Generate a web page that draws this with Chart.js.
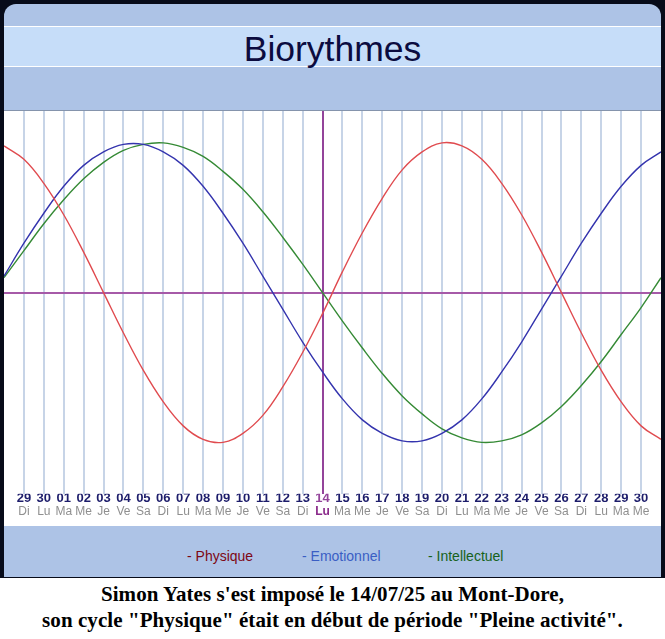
<!DOCTYPE html>
<html>
<head>
<meta charset="utf-8">
<script src="https://cdn.jsdelivr.net/npm/chart.js@4.4.0/dist/chart.umd.min.js"></script>
<style>
  html, body { margin: 0; padding: 0; }
  body { width: 665px; height: 639px; background: #ffffff; position: relative; overflow: hidden; font-family: 'Liberation Sans', Arial, sans-serif; }
  #frame { position: absolute; left: 0; top: 0; width: 665px; height: 578px; background: #070b19; }
  #panel { position: absolute; left: 4px; top: 4px; width: 657px; height: 573px; background: #adc3e6; border-radius: 12px 12px 0 0; overflow: hidden; }
  #titleBand { position: absolute; left: 0; top: 22px; width: 657px; height: 39px; background: #c6ddf9; border-top: 1px solid #ffffff; border-bottom: 1px solid #ffffff; }
  #titleBand span { position: absolute; left: 0; width: 657px; top: 2px; text-align: center; font-size: 35.5px; color: #0b0b3f; }
  #plot { position: absolute; left: 0; top: 106px; width: 657px; height: 415px; background: #ffffff; border-top: 1px solid #8594ac; }
  #legend span { position: absolute; top: 544px; font-size: 14px; }
  #caption { position: absolute; left: 0; top: 581px; width: 665px; text-align: center; font-family: 'Liberation Serif', 'Times New Roman', serif; font-weight: bold; font-size: 21px; letter-spacing: 0.07px; line-height: 26px; color: #000000; }
</style>
</head>
<body>
<div id="frame">
  <div id="panel">
    <div id="titleBand"><span>Biorythmes</span></div>
    <div id="plot"><canvas id="bio" width="657" height="415"></canvas></div>
    <div id="legend">
      <span style="left:183px;color:#7e0714">- Physique</span>
      <span style="left:298px;color:#3a5ec4">- Emotionnel</span>
      <span style="left:424px;color:#16621a">- Intellectuel</span>
    </div>
  </div>
</div>
<div id="caption">Simon Yates s'est imposé le 14/07/25 au Mont-Dore,<br>son cycle "Physique" était en début de période "Pleine activité".</div>

<script>
// days shown: 29/06 -> 30/07, the race day (14/07, Lu) is index 15
const dayNums = ['29', '30', '01', '02', '03', '04', '05', '06', '07', '08', '09', '10', '11', '12', '13', '14',
                 '15', '16', '17', '18', '19', '20', '21', '22', '23', '24', '25', '26', '27', '28', '29', '30'];
const weekDays = ['Di', 'Lu', 'Ma', 'Me', 'Je', 'Ve', 'Sa', 'Di', 'Lu', 'Ma', 'Me', 'Je', 'Ve', 'Sa', 'Di', 'Lu',
                  'Ma', 'Me', 'Je', 'Ve', 'Sa', 'Di', 'Lu', 'Ma', 'Me', 'Je', 'Ve', 'Sa', 'Di', 'Lu', 'Ma', 'Me'];
const raceDay = 15;

// one point per day, from the day before 29/06 to the day after 30/07
const xDays = [-1, 0, 1, 2, 3, 4, 5, 6, 7, 8, 9, 10, 11, 12, 13, 14, 15, 16,
               17, 18, 19, 20, 21, 22, 23, 24, 25, 26, 27, 28, 29, 30, 31, 32];
const physique = [0.98, 0.89, 0.73, 0.52, 0.27, 0.00, -0.27, -0.52, -0.73, -0.89, -0.98, -1.00, -0.94, -0.82, -0.63, -0.40, -0.14,
                  0.14, 0.40, 0.63, 0.82, 0.94, 1.00, 0.98, 0.89, 0.73, 0.52, 0.27, 0.00, -0.27, -0.52, -0.73, -0.89, -0.98];
const emotionnel = [0.11, 0.33, 0.53, 0.71, 0.85, 0.94, 0.99, 0.99, 0.94, 0.85, 0.71, 0.53, 0.33, 0.11, -0.11, -0.33, -0.53,
                    -0.71, -0.85, -0.94, -0.99, -0.99, -0.94, -0.85, -0.71, -0.53, -0.33, -0.11, 0.11, 0.33, 0.53, 0.71, 0.85, 0.94];
const intellectuel = [0.10, 0.28, 0.46, 0.62, 0.76, 0.87, 0.95, 0.99, 1.00, 0.97, 0.91, 0.81, 0.69, 0.54, 0.37, 0.19, 0.00,
                      -0.19, -0.37, -0.54, -0.69, -0.81, -0.91, -0.97, -1.00, -0.99, -0.95, -0.87, -0.76, -0.62, -0.46, -0.28, -0.10, 0.10];

const fontFamily = "'Liberation Sans', Arial, sans-serif";
const purple = '#93449a';
const gridBlue = '#c7d4e7';

function toPoints(values) {
    return values.map((v, i) => ({ x: xDays[i], y: v }));
}

function dayTicks(scale) {
    scale.ticks = dayNums.map((d, i) => ({ value: i }));
}

new Chart(document.getElementById('bio'), {
    type: 'line',
    data: {
        datasets: [
            { label: 'Physique', data: toPoints(physique), borderColor: '#e04b4f' },
            { label: 'Emotionnel', data: toPoints(emotionnel), borderColor: '#3434ae' },
            { label: 'Intellectuel', data: toPoints(intellectuel), borderColor: '#358a35' }
        ]
    },
    options: {
        responsive: false,
        animation: false,
        layout: { padding: { bottom: 5.7 } },
        elements: {
            line: { borderWidth: 1.4, tension: 0.4 },
            point: { radius: 0 }
        },
        plugins: {
            legend: { display: false },
            tooltip: { enabled: false }
        },
        scales: {
            x: {
                type: 'linear', position: 'bottom', min: -1, max: 32,
                afterBuildTicks: dayTicks,
                grid: {
                    drawTicks: false,
                    lineWidth: 2,
                    color: (ctx) => ctx.tick && ctx.tick.value === raceDay ? purple : gridBlue
                },
                border: { display: false },
                ticks: {
                    autoSkip: false, maxRotation: 0, padding: 0,
                    callback: (v, i) => dayNums[i],
                    font: { family: fontFamily, size: 13, weight: 'bold', lineHeight: 0.77 },
                    color: (ctx) => ctx.index === raceDay ? purple : '#1d1d6b'
                }
            },
            x2: {
                type: 'linear', position: 'bottom', min: -1, max: 32,
                afterBuildTicks: dayTicks,
                grid: { display: false, drawTicks: false },
                border: { display: false },
                ticks: {
                    autoSkip: false, maxRotation: 0, padding: 2.3,
                    callback: (v, i) => weekDays[i],
                    font: (ctx) => ({ family: fontFamily, size: 12, lineHeight: 1, weight: ctx.index === raceDay ? 'bold' : 'normal' }),
                    color: (ctx) => ctx.index === raceDay ? '#8a2a8a' : '#8f8f8f'
                }
            },
            y: {
                min: -1.343, max: 1.213,
                afterBuildTicks: (scale) => { scale.ticks = [{ value: 0 }]; },
                grid: { drawTicks: false, lineWidth: 2, color: '#a65aa8' },
                border: { display: false },
                ticks: { display: false }
            }
        }
    }
});
</script>
</body>
</html>
